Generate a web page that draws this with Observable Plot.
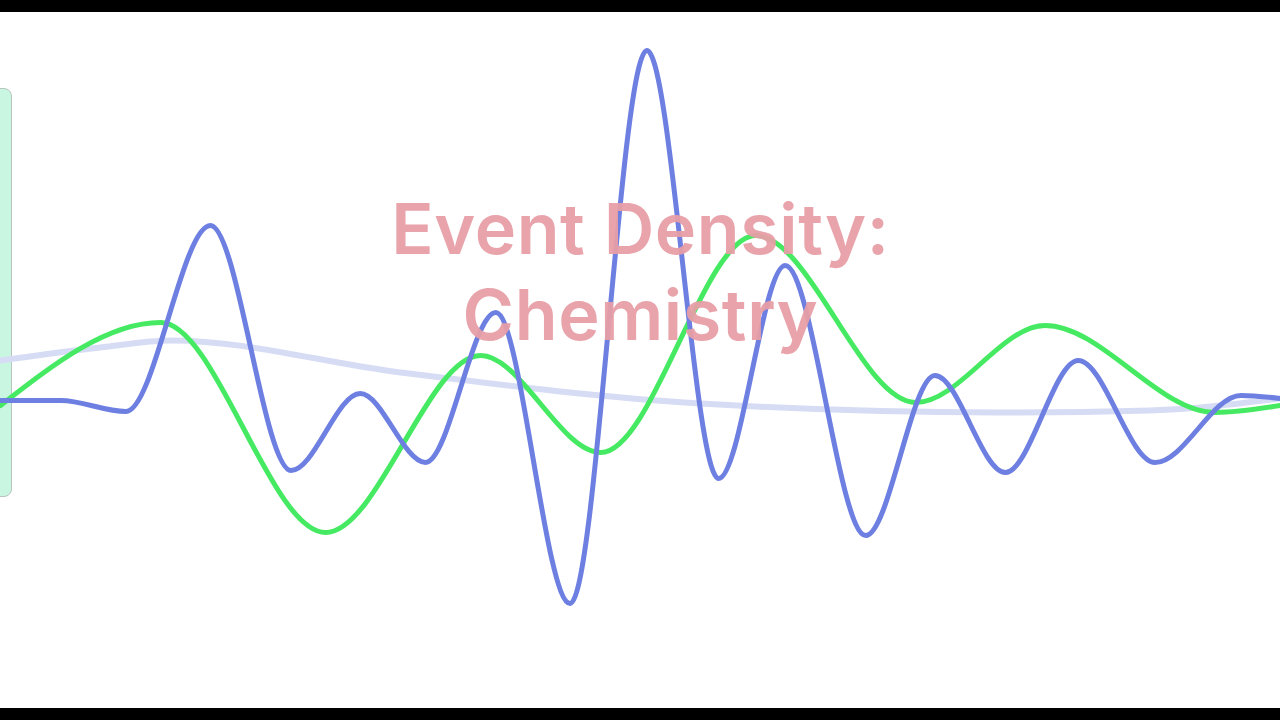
<!DOCTYPE html>
<html>
<head>
<meta charset="utf-8">
<script src="https://cdn.jsdelivr.net/npm/d3@7"></script>
<script src="https://cdn.jsdelivr.net/npm/@observablehq/plot@0.6"></script>
<style>
  html, body { margin: 0; padding: 0; background: #000; width: 1280px; height: 720px; overflow: hidden; }
  #stage { position: absolute; left: 0; top: 12px; width: 1280px; height: 696px; background: #fff; overflow: hidden; }
  #panel { position: absolute; left: -14px; top: 76px; width: 24px; height: 407px; background: #c8f6e1; border: 1.5px solid #b9c4bf; border-radius: 8px; }
  #chart { position: absolute; left: 0; top: 0; }
</style>
</head>
<body>
<div id="stage"><div id="panel"></div><div id="chart"></div></div>
<script>
const title = "Event Density:\nChemistry";

const blueT = [0, 4.7, 9.8, 16.4, 22.7, 28.1, 33.2, 38.7, 44.5, 50.5, 56.1, 61.3, 67.6, 73.0, 78.5, 84.2, 90.2, 96.9, 100];
const blueV = [0, 0, -0.11, 1.75, -0.70, 0.07, -0.62, 0.88, -2.03, 3.50, -0.78, 1.35, -1.35, 0.25, -0.72, 0.40, -0.62, 0.05, 0.02];

const greenT = [0, 12.5, 25.4, 37.5, 46.9, 59.0, 71.5, 81.6, 94.9, 100];
const greenV = [-0.05, 0.78, -1.32, 0.45, -0.52, 1.65, -0.02, 0.75, -0.12, -0.05];

const lavT = [0, 7.8, 13.3, 31.25, 54.7, 78.1, 89.8, 100];
const lavV = [0.40, 0.53, 0.60, 0.28, -0.03, -0.12, -0.10, 0.02];

const toRows = (t, v) => t.map((x, i) => ({t: x, v: v[i]}));
const blue = toRows(blueT, blueV);
const green = toRows(greenT, greenV);
const lav = toRows(lavT, lavV);

const chart = Plot.plot({
  width: 1280,
  height: 696,
  margin: 0,
  x: {domain: [0, 100], axis: null},
  y: {domain: [-3.08, 3.88], axis: null},
  style: {background: "transparent", overflow: "hidden"},
  marks: [
    Plot.line(lav, {x: "t", y: "v", stroke: "#d7dcf5", strokeWidth: 6, curve: "monotone-x"}),
    Plot.line(green, {x: "t", y: "v", stroke: "#45ea62", strokeWidth: 5, curve: "monotone-x"}),
    Plot.line(blue, {x: "t", y: "v", stroke: "#6e7fe2", strokeWidth: 5, curve: "monotone-x"}),
    Plot.text([title], {
      frameAnchor: "middle", dy: -91, text: d => d,
      fontSize: 70, fontWeight: 600, fill: "#e79ea6", fillOpacity: 0.95,
      lineHeight: 1.23, fontFamily: "Inter, 'DejaVu Sans', sans-serif"
    })
  ]
});
d3.select(chart).selectAll("text").attr("letter-spacing", "0.6px");
document.getElementById("chart").append(chart);
</script>
</body>
</html>
